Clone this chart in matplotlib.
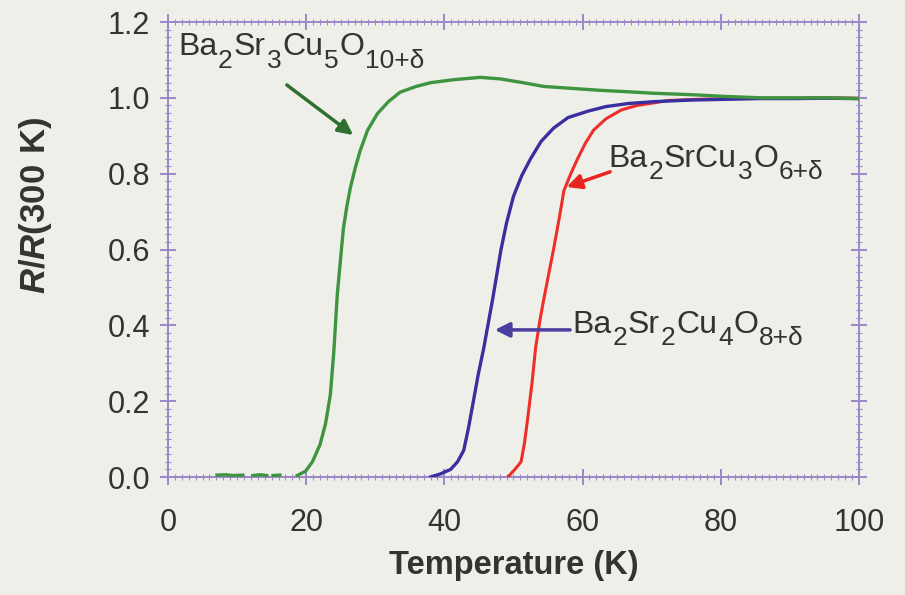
import numpy as np
import matplotlib.pyplot as plt
from matplotlib.ticker import MultipleLocator, FormatStrFormatter

plt.rcParams['font.family'] = ['Liberation Sans', 'DejaVu Sans']
plt.rcParams['mathtext.fontset'] = 'custom'
plt.rcParams['mathtext.rm'] = 'Liberation Sans'
plt.rcParams['mathtext.bf'] = 'Liberation Sans:bold'
plt.rcParams['mathtext.bfit'] = 'Liberation Sans:italic:bold'

# values (T in K, R/R(300 K))
green_T = [7.1, 8.4, 9.4, 10.8, np.nan, 12.3, 13.4, 14.3, np.nan, 15.2, 16.2, np.nan,
           18.7, 19.9, 20.9, 22.0, 22.8, 23.5, 24.0, 24.5, 25.0, 25.4, 25.9, 26.4, 27.1,
           27.8, 28.9, 30.3, 31.9, 33.6, 35.9, 38.0, 41.4, 45.2, 48.1, 51.4, 54.4,
           58.4, 62.4, 66.6, 70.4, 76.2, 80.4, 85.9, 90.4, 95.4, 100.0]
green_R = [0.005, 0.006, 0.004, 0.005, np.nan, 0.004, 0.006, 0.004, np.nan, 0.004, 0.005, np.nan,
           0.004, 0.015, 0.04, 0.085, 0.14, 0.217, 0.33, 0.48, 0.58, 0.657, 0.715, 0.763, 0.815,
           0.86, 0.915, 0.958, 0.99, 1.015, 1.03, 1.04, 1.048, 1.054, 1.05, 1.04, 1.03,
           1.025, 1.02, 1.016, 1.012, 1.008, 1.004, 1.0, 1.0, 1.0, 0.998]

blue_T = [38.0, 39.4, 40.9, 41.9, 42.8, 43.5, 44.2, 44.9, 45.7, 46.4, 47.0, 47.6, 48.2,
          49.0, 50.0, 51.2, 52.5, 54.0, 55.8, 57.9, 60.8, 63.4, 66.6, 70.4, 75.4, 80.4,
          85.4, 90.4, 95.4, 100.0]
blue_R = [0.0, 0.008, 0.02, 0.04, 0.07, 0.13, 0.2, 0.27, 0.34, 0.41, 0.47, 0.535, 0.6,
          0.67, 0.74, 0.795, 0.84, 0.885, 0.92, 0.948, 0.965, 0.977, 0.985, 0.99, 0.994, 0.996,
          0.998, 0.998, 0.999, 0.998]

red_T = [49.2, 50.2, 51.1, 51.6, 52.1, 52.7, 53.2, 53.8, 54.4, 55.1, 55.8, 56.6, 57.3,
         58.3, 59.3, 60.4, 61.6, 63.4, 65.6, 67.9, 70.4, 72.4, 76.4, 80.4, 85.4, 90.4,
         95.4, 100.0]
red_R = [0.0, 0.02, 0.04, 0.09, 0.16, 0.25, 0.34, 0.41, 0.47, 0.535, 0.6, 0.68, 0.755,
         0.8, 0.84, 0.88, 0.915, 0.945, 0.968, 0.98, 0.987, 0.993, 0.996, 0.998, 0.999, 0.999,
         1.0, 0.999]

# formula labels: (text, is_subscript) pieces
label_pieces = [
    [('Ba', 0), ('2', 1), ('Sr', 0), ('3', 1), ('Cu', 0), ('5', 1), ('O', 0), ('10+δ', 1)],
    [('Ba', 0), ('2', 1), ('SrCu', 0), ('3', 1), ('O', 0), ('6+δ', 1)],
    [('Ba', 0), ('2', 1), ('Sr', 0), ('2', 1), ('Cu', 0), ('4', 1), ('O', 0), ('8+δ', 1)],
]
label_xy = [(1.45, 1.113), (63.7, 0.818), (58.5, 0.380)]
arrow_tail = [(17.2, 1.034), (64.0, 0.805), (58.2, 0.388)]
arrow_head = [(26.8, 0.902), (57.7, 0.765), (47.3, 0.388)]

bg = '#efefea'
spine_col = '#9a88c8'
txt_col = '#333333'
green = '#3f9440'
blue = '#3a2f9e'
red = '#ee2e28'
arrow_cols = ['#2f6f30', '#e8261f', '#4a3fa0']


def formula(ax, x, y, pieces, size=23, sub_size=19, drop=9, gap=0.6):
    prev = None
    for text, sub in pieces:
        fs = sub_size if sub else size
        dy = -drop if sub else 0
        if prev is None:
            prev = ax.text(x, y, text, fontsize=fs, color=txt_col, va='baseline',
                           ha='left', zorder=6)
        else:
            prev = ax.annotate(text, xy=(1, y), xycoords=(prev, 'data'),
                               xytext=(gap, dy), textcoords='offset points',
                               fontsize=fs, color=txt_col, va='baseline', ha='left',
                               zorder=6)


fig = plt.figure(figsize=(9.05, 5.95), dpi=100, facecolor=bg)
ax = fig.add_axes([0.1856, 0.1983, 0.7635, 0.7647], facecolor=bg)

ax.plot(red_T, red_R, color=red, lw=2.2, zorder=3)
ax.plot(blue_T, blue_R, color=blue, lw=2.4, zorder=4)
ax.plot(green_T, green_R, color=green, lw=2.4, zorder=5)

for i in range(3):
    formula(ax, label_xy[i][0], label_xy[i][1], label_pieces[i])
    ax.annotate('', xy=arrow_head[i], xytext=arrow_tail[i],
                arrowprops=dict(arrowstyle='-|>', color=arrow_cols[i], lw=2.5,
                                mutation_scale=22, shrinkA=0, shrinkB=0), zorder=6)

ax.set_xlim(0, 100)
ax.set_ylim(0, 1.2)
ax.xaxis.set_major_locator(MultipleLocator(20))
ax.xaxis.set_minor_locator(MultipleLocator(1))
ax.yaxis.set_major_locator(MultipleLocator(0.2))
ax.yaxis.set_minor_locator(MultipleLocator(0.02))
ax.yaxis.set_major_formatter(FormatStrFormatter('%.1f'))

for s in ax.spines.values():
    s.set_color(spine_col)
    s.set_linewidth(1.4)
ax.tick_params(which='major', direction='inout', length=12, width=1.4, color=spine_col,
               labelsize=22, labelcolor=txt_col, top=True, right=True)
ax.tick_params(axis='x', which='major', pad=16)
ax.tick_params(axis='y', which='major', pad=7)
ax.tick_params(which='minor', direction='inout', length=4, width=0.8, color=spine_col,
               top=True, right=True)

ax.set_xlabel('Temperature (K)', fontsize=23.5, fontweight='bold', color=txt_col, labelpad=9)
ax.set_ylabel(r'$\mathbfit{R}\mathbf{/}\mathbfit{R}\mathbf{(300\ K)}$', fontsize=25,
              color=txt_col)
ax.yaxis.set_label_coords(-0.165, 0.598)

fig.savefig('out.png', dpi=100, facecolor=bg)
